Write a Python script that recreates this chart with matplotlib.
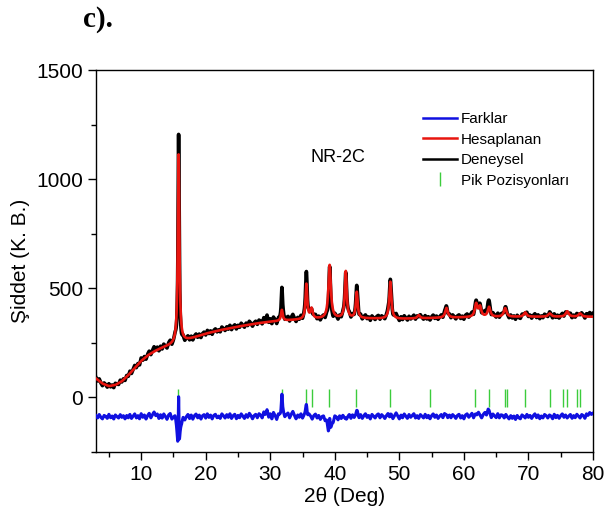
import matplotlib
matplotlib.use("Agg")
import matplotlib.pyplot as plt
import numpy as np
from matplotlib.lines import Line2D
from matplotlib.ticker import MultipleLocator

plt.rcParams.update({
    "font.family": ["Liberation Sans", "DejaVu Sans"],
    "font.size": 15,
})

# smooth background under the pattern (2theta, counts)
bg_tt = [3, 4, 5, 6, 7, 8, 9, 10, 11, 12, 13, 14, 15, 16, 18, 20, 22, 25,
         28, 30, 33, 36, 40, 45, 50, 55, 60, 65, 70, 75, 80]
bg_counts = [85, 62, 50, 55, 72, 100, 132, 165, 190, 208, 222, 232, 240, 250,
             270, 290, 305, 323, 338, 345, 352, 357, 360, 360, 358, 362, 365,
             367, 368, 368, 368]

# reflections: position, net height observed / calculated, FWHM observed / calculated
pk_pos = [15.80, 31.80, 35.60, 36.40, 39.20, 41.70, 43.40, 48.60, 53.00,
          57.30, 61.90, 62.50, 63.90, 66.40, 69.50, 73.30, 76.00, 78.00]
pk_obs = [965, 157, 210, 45, 235, 215, 135, 180, 15, 50, 65, 45, 60, 45,
          20, 15, 25, 15]
pk_calc = [865, 50, 160, 45, 245, 215, 120, 170, 15, 45, 60, 45, 45, 40,
           20, 15, 25, 15]
pk_w_obs = [0.20, 0.24, 0.30, 0.40, 0.30, 0.32, 0.32, 0.36, 0.45, 0.45,
            0.45, 0.45, 0.45, 0.50, 0.50, 0.55, 0.55, 0.55]
pk_w_calc = [0.28, 0.32, 0.32, 0.40, 0.45, 0.34, 0.34, 0.38, 0.45, 0.48,
             0.48, 0.45, 0.48, 0.50, 0.50, 0.55, 0.55, 0.55]

# counting noise on the measured pattern, every 0.25 deg from 3 to 80
noise_tt = np.arange(3.0, 80.001, 0.25)
noise = [
    5, -6, 10, -3, -10, 6, 2, -8, 11, -5, 3, -11, 8, 0, -6, 10, -3, 5, -10, 6,
    -5, 11, -8, 3, 13, -6, 5, -10, 14, -3, 8, -11, 6, 16, -5, 10, 22, 5, 13, -8,
    10, -6, 14, 3, -10, 11, 19, -5, 8, 26, 6, -13, 10, -5, 11, -8, 5, 14, -6, 10,
    -10, 6, 13, -5, 8, -11, 5, 10, -6, 14, -3, 8, -10, 6, 11, -5, 3, -8, 13, 5,
    -6, 10, -3, 14, -8, 5, 11, -10, 6, -5, 13, 3, -8, 10, -3, 16, 6, -10, 5, 11,
    -5, 14, 8, -6, 22, 10, 32, -3, 13, -11, 19, 5, -14, 10, 3, -8, 13, -5, 8, 16,
    -6, 11, 24, 5, -10, 8, -3, 13, -8, 5, 14, -6, 10, 3, -11, 6, 13, -5, 8, -10,
    5, 11, -6, 10, -13, 6, 3, -8, 14, 5, -10, 8, -5, 11, 3, -8, 6, 13, -6, 10,
    -3, 8, 19, -5, 10, -8, 5, 14, -3, 6, -10, 11, 3, -6, 8, 13, -5, 10, 3, -8,
    6, 16, -5, 10, -8, 5, 18, 3, -10, 8, -5, 13, 3, -8, 10, -3, 6, 14, -6, 5,
    -8, 10, 3, -6, 11, -5, 6, -10, 5, 13, -3, 8, -8, 3, 10, -5, 14, 6, -6, 8,
    -5, 10, 3, -8, 6, 11, -6, 5, -10, 8, 13, -3, 6, 16, -5, 10, 5, 21, 8, -6,
    10, 19, 5, 26, 6, -8, 11, 3, -5, 14, -6, 8, 5, -10, 6, -3, -11, 5, -8, 3,
    -13, 6, -5, -10, 8, 3, -6, 11, -3, 6, -8, 5, 13, -5, 8, -10, 3, -6, 10, 5,
    -6, 8, 3, -10, 11, -5, 6, -8, 5, 13, -3, 8, -6, 3, 10, -8, 5, -5, 11, 3,
    -6, 10, 5, -8, 13, 6, 19, 10, 16,
]

# Bragg positions of the refined phase
bragg_tt = [15.75, 31.80, 35.50, 36.50, 39.10, 43.30, 48.60, 54.70, 61.70,
            63.90, 66.40, 66.70, 69.50, 73.30, 75.30, 76.00, 77.60, 78.00]

DIFF_OFFSET = -90
TICK_Y = -5

BLUE = "#1010e0"
RED = "#e8150f"
GREEN = "#3ccc3c"


def profile(tt, heights, widths):
    y = np.interp(tt, bg_tt, bg_counts)
    for p, h, w in zip(pk_pos, heights, widths):
        y = y + h / (1 + ((tt - p) / (w / 2)) ** 2)
    return y


tt = np.arange(3.0, 80.0001, 0.02)
calc = profile(tt, pk_calc, pk_w_calc)
obs = profile(tt, pk_obs, pk_w_obs) + np.interp(tt, noise_tt, noise)
diff = obs - calc + DIFF_OFFSET

fig = plt.figure(figsize=(6.06, 5.24), dpi=100)
ax = fig.add_axes([0.1584, 0.1374, 0.8201, 0.729])

ax.plot(bragg_tt, [TICK_Y] * len(bragg_tt), linestyle="none", marker="|",
        markersize=13, markeredgewidth=1.0, color=GREEN, zorder=2)
ax.plot(tt, obs, color="black", lw=2.6, zorder=3)
ax.plot(tt, calc, color=RED, lw=1.9, zorder=4)
ax.plot(tt, diff, color=BLUE, lw=2.2, zorder=5)

ax.set_xlim(3, 80)
ax.set_ylim(-252, 1500)
ax.xaxis.set_major_locator(MultipleLocator(10))
ax.xaxis.set_minor_locator(MultipleLocator(5))
ax.yaxis.set_major_locator(MultipleLocator(500))
ax.yaxis.set_minor_locator(MultipleLocator(250))
ax.tick_params(which="both", direction="out", top=False, right=False)
ax.tick_params(which="major", length=6, width=1, labelsize=15)
ax.tick_params(which="minor", length=3.5, width=1)
for s in ax.spines.values():
    s.set_linewidth(1.0)

ax.set_xlabel("2θ (Deg)", fontsize=15, labelpad=2)
ax.set_ylabel("Şiddet (K. B.)", fontsize=15, labelpad=4)

ax.text(40.5, 1100, "NR-2C", fontsize=13, ha="center", va="center")

handles = [
    Line2D([], [], color=BLUE, lw=1.8),
    Line2D([], [], color=RED, lw=1.8),
    Line2D([], [], color="black", lw=1.8),
    Line2D([], [], color=GREEN, lw=0, marker="|", markersize=10,
           markeredgewidth=1.0),
]
ax.legend(handles, ["Farklar", "Hesaplanan", "Deneysel", "Pik Pozisyonları"],
          loc="upper left", bbox_to_anchor=(0.637, 0.917), frameon=False,
          fontsize=11, handlelength=2.2, handletextpad=0.25, labelspacing=0.42,
          borderpad=0.2)

fig.text(0.162, 0.962, "c).", fontsize=21, fontweight="bold",
         family="Liberation Serif", ha="center", va="center")

fig.savefig("out.png", dpi=100)
